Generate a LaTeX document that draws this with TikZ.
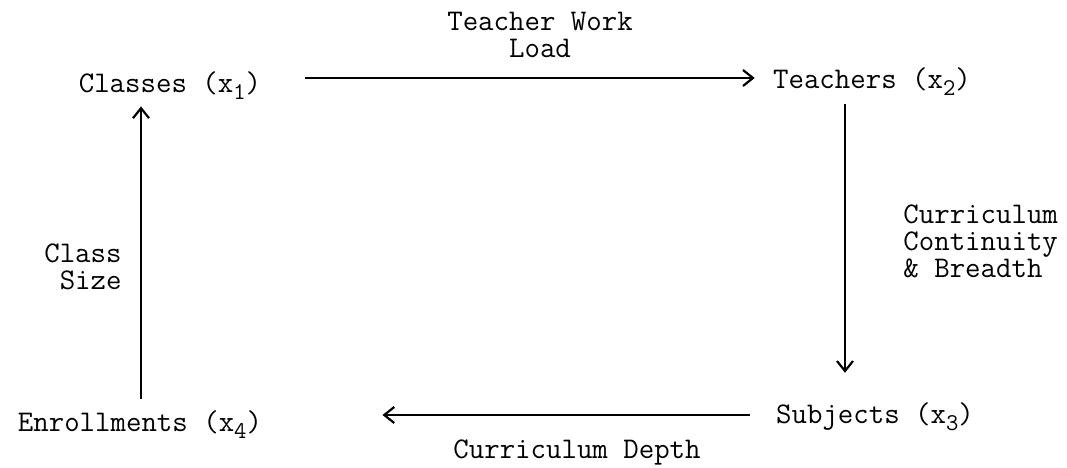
\documentclass[tikz,border=0pt]{standalone}
\usetikzlibrary{arrows.meta}
\newcommand{\xsub}[1]{\raisebox{-3.5pt}{\fontsize{12}{12}\selectfont #1}}
\begin{document}
\begin{tikzpicture}[x=0.5pt,y=-0.5pt,
  every node/.style={font=\fontsize{15}{13.5}\selectfont\ttfamily, inner sep=0pt},
  flow/.style={-{Straight Barb[length=5pt,width=8pt]}, line width=1.1pt}]
\useasboundingbox (0,0) rectangle (1067,467);
% variables
\node[anchor=base] (classes) at (170,92) {Classes (x\xsub{1})};
\node[anchor=base] (teachers) at (872,88) {Teachers (x\xsub{2})};
\node[anchor=base] (subjects) at (875,423) {Subjects (x\xsub{3})};
\node[anchor=base] (enroll) at (140,431) {Enrollments (x\xsub{4})};
\coordinate (lx) at (141,0);
\coordinate (rx) at (845,0);
\coordinate (ty) at (0,78);
\coordinate (by) at (0,415);
% links
\draw[flow, shorten <=21.5pt, shorten >=9pt] (classes.east |- ty) -- (teachers.west |- ty);
\draw[flow, shorten <=4.5pt, shorten >=14.5pt] (teachers.south -| rx) -- (subjects.north -| rx);
\draw[flow, shorten <=13pt, shorten >=60pt] (subjects.west |- by) -- (enroll.east |- by);
\draw[flow, shorten <=5.5pt, shorten >=3.5pt] (enroll.north -| lx) -- (classes.south -| lx);
% labels
\node[align=center, anchor=south] (load) at (540,58) {Teacher Work\\Load};
\node[align=left, anchor=south west] (breadth) at (903,278) {Curriculum\\Continuity\\\& Breadth};
\node[align=right, anchor=south east] (size) at (122,290) {Class\\Size};
\node[anchor=base] (depth) at (577,458) {Curriculum Depth};
\end{tikzpicture}
\end{document}
